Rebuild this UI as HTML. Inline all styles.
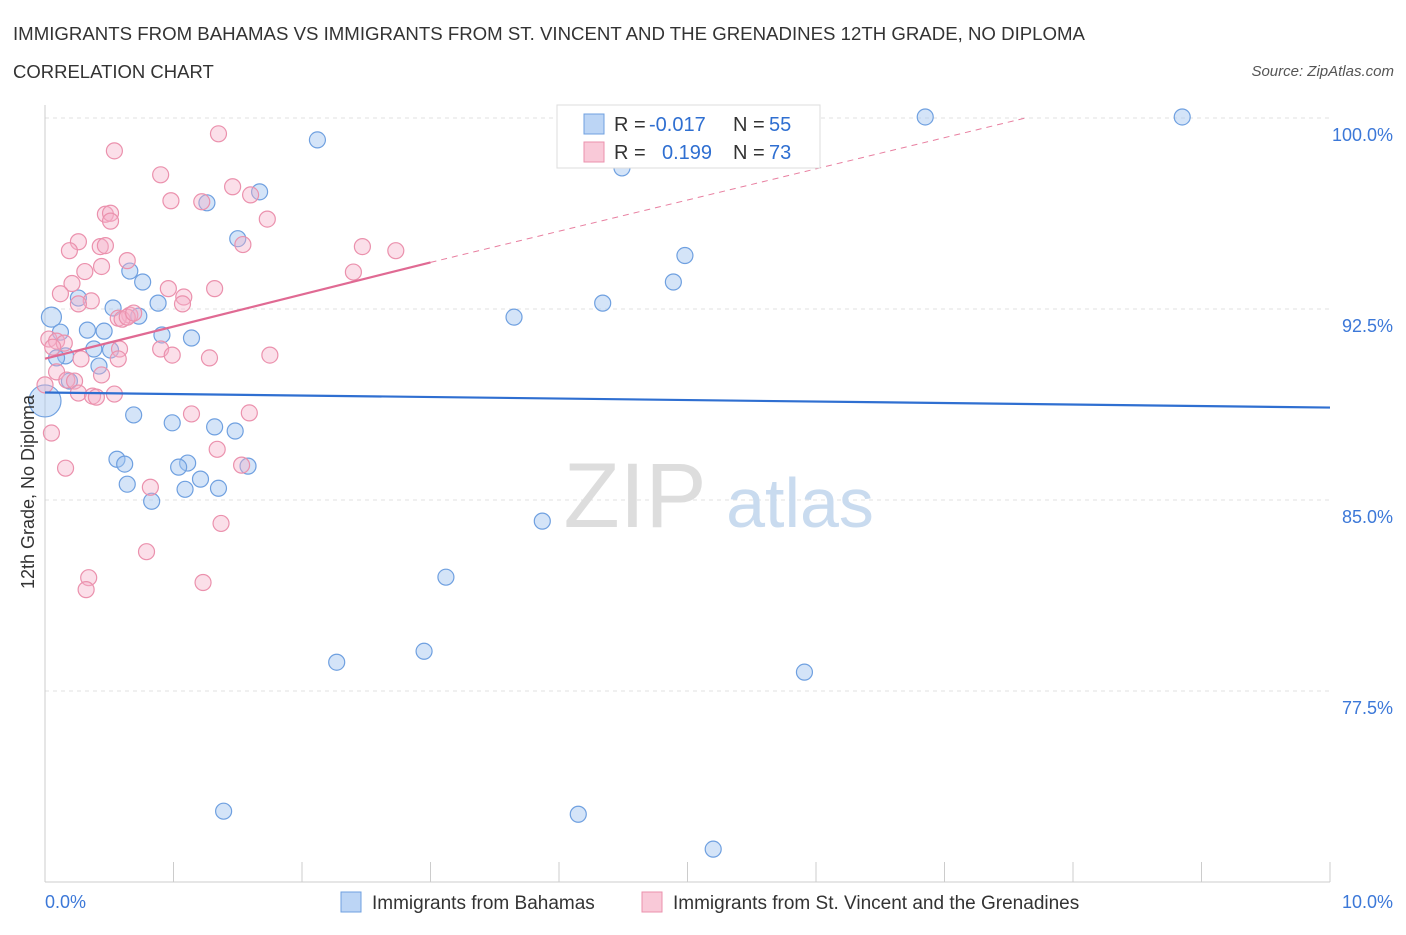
<!DOCTYPE html>
<html><head><meta charset="utf-8"><style>
body{margin:0;background:#fff;font-family:"Liberation Sans",sans-serif;}
svg text{font-family:"Liberation Sans",sans-serif;}
</style></head><body>
<svg id="chart" width="1406" height="930" xmlns="http://www.w3.org/2000/svg">
<text x="13" y="40" font-size="18.5" fill="#333" textLength="1072" lengthAdjust="spacingAndGlyphs">IMMIGRANTS FROM BAHAMAS VS IMMIGRANTS FROM ST. VINCENT AND THE GRENADINES 12TH GRADE, NO DIPLOMA</text>
<text x="13" y="78" font-size="18.5" fill="#333">CORRELATION CHART</text>
<text x="1394" y="76" font-size="15" fill="#555" font-style="italic" text-anchor="end">Source: ZipAtlas.com</text>
<g id="grid"></g>
<g><text x="635" y="527" font-size="92" fill="#ddd" text-anchor="middle" font-family="Liberation Serif">ZIP</text><text x="800" y="527" font-size="70" fill="#c9dbef" text-anchor="middle">atlas</text></g>
<g id="marks"></g>
<text transform="translate(34,492) rotate(-90)" font-size="18" fill="#333" text-anchor="middle">12th Grade, No Diploma</text>
<g>
<rect x="557" y="105" width="263" height="63" fill="#fff" stroke="#ddd"/>
<rect x="584" y="114" width="20" height="20" fill="#bcd5f5" stroke="#6fa0e0"/>
<rect x="584" y="142" width="20" height="20" fill="#f9c9d8" stroke="#eb91ad"/>
<text x="614" y="131" font-size="20" fill="#333">R =</text>
<text x="649" y="131" font-size="20" fill="#2f6fd1">-0.017</text>
<text x="733" y="131" font-size="20" fill="#333">N =</text>
<text x="769" y="131" font-size="20" fill="#2f6fd1">55</text>
<text x="614" y="159" font-size="20" fill="#333">R =</text>
<text x="662" y="159" font-size="20" fill="#2f6fd1">0.199</text>
<text x="733" y="159" font-size="20" fill="#333">N =</text>
<text x="769" y="159" font-size="20" fill="#2f6fd1">73</text>
</g>
<g>
<rect x="341" y="892" width="20" height="20" fill="#bcd5f5" stroke="#6fa0e0"/>
<text x="372" y="909" font-size="19" fill="#333">Immigrants from Bahamas</text>
<rect x="642" y="892" width="20" height="20" fill="#f9c9d8" stroke="#eb91ad"/>
<text x="673" y="909" font-size="19" fill="#333">Immigrants from St. Vincent and the Grenadines</text>
</g>
</svg>
<script>
const xTicks=[0,10];
const yTicks=[77.5,85,92.5,100];
const blueX=[2.12,6.85,8.85,4.49,1.26,1.67,1.5,4.98,0.66,0.76,4.89,0.26,0.88,4.34,0.53,0.05,0.73,3.65,0.12,0.33,0.46,0.91,1.14,0.38,0.51,0.16,0.09,0.42,0.19,0.0,0.69,0.99,1.32,1.48,0.56,0.62,1.11,1.04,1.58,1.21,0.64,1.09,1.35,0.83,3.87,3.12,2.27,2.95,5.91,1.39,4.15,5.2];
const blueY=[99.14,100.04,100.04,98.04,96.67,97.1,95.26,94.6,93.99,93.56,93.56,92.93,92.73,92.73,92.54,92.18,92.22,92.18,91.59,91.67,91.63,91.48,91.36,90.93,90.89,90.66,90.58,90.26,89.67,88.89,88.34,88.03,87.87,87.71,86.6,86.41,86.45,86.29,86.33,85.82,85.62,85.42,85.46,84.95,84.17,81.97,78.63,79.06,78.24,72.78,72.66,71.29];
const blueR=[8,8,8,8,8,8,8,8,8,8,8,8,8,8,8,10,8,8,8,8,8,8,8,8,8,8,8,8,8,16,8,8,8,8,8,8,8,8,8,8,8,8,8,8,8,8,8,8,8,8,8,8];
const pinkX=[1.35,0.54,0.9,1.46,0.98,1.22,1.6,0.47,0.51,0.51,1.73,0.26,0.19,0.43,0.47,1.54,2.47,2.73,0.64,0.44,0.31,2.4,0.21,0.96,1.32,0.12,0.36,0.26,1.08,1.07,0.66,0.57,0.6,0.64,0.69,0.03,0.09,0.15,0.06,0.9,0.58,0.99,1.28,1.75,0.28,0.57,0.09,0.44,0.17,0.23,0.0,0.26,0.37,0.4,0.54,1.14,1.59,0.05,1.34,1.53,0.16,0.82,1.37,0.79,0.34,0.32,1.23];
const pinkY=[99.38,98.71,97.77,97.3,96.75,96.71,96.98,96.22,96.26,95.95,96.03,95.14,94.79,94.95,94.99,95.03,94.95,94.79,94.4,94.17,93.97,93.95,93.5,93.3,93.3,93.1,92.82,92.7,92.97,92.7,92.26,92.14,92.1,92.18,92.34,91.32,91.24,91.16,91.0,90.93,90.93,90.69,90.58,90.69,90.54,90.54,90.03,89.91,89.71,89.67,89.52,89.2,89.08,89.04,89.16,88.38,88.42,87.63,86.99,86.37,86.25,85.5,84.08,82.97,81.95,81.48,81.76];
const P={l:45,r:1330,t:118,b:882};
const xs=v=>P.l+(v-0)/10*(P.r-P.l);
const ys=v=>118+(100-v)/7.5*191;
const NS="http://www.w3.org/2000/svg";
function mk(tag,attrs,parent){const e=document.createElementNS(NS,tag);for(const k in attrs)e.setAttribute(k,attrs[k]);parent.appendChild(e);return e;}
const g=document.getElementById('grid'),m=document.getElementById('marks');
yTicks.forEach(t=>{
 const l=mk('line',{x1:45,x2:1330,y1:ys(t),y2:ys(t),stroke:'#e2e2e2','stroke-dasharray':'4,4'},g);
 
 
 const tx=mk('text',{x:1393,y:ys(t)+23,'font-size':18,fill:'#3c78d8','text-anchor':'end'},g);tx.textContent=t.toFixed(1)+'%';
 
 
});
const ax=mk('line',{x1:45,x2:1330,y1:882,y2:882,stroke:'#ccc'},g);


const ay=mk('line',{x1:45,x2:45,y1:105,y2:882,stroke:'#ccc'},g);


for(let i=0;i<=10;i++){const t=mk('line',{x1:xs(i),x2:xs(i),y1:862,y2:882,stroke:'#ccc'},g);
 
 }
xTicks.forEach((t,i)=>{const tx=mk('text',{x:i==0?45:1393,y:908,'font-size':18,fill:'#3c78d8','text-anchor':i==0?'start':'end'},g);tx.textContent=t.toFixed(1)+'%';
 
 });
blueX.forEach((x,i)=>{const c=mk('circle',{cx:xs(x),cy:ys(blueY[i]),r:blueR[i],fill:'rgba(160,195,240,0.45)',stroke:'#6fa0e0','stroke-width':1.2},m);
 
 });
pinkX.forEach((x,i)=>{const c=mk('circle',{cx:xs(x),cy:ys(pinkY[i]),r:8,fill:'rgba(245,175,200,0.4)',stroke:'#eb91ad','stroke-width':1.2},m);
 
 });
const bl=mk('line',{x1:xs(0),y1:ys(89.22),x2:xs(10),y2:ys(88.63),stroke:'#2f6fd1','stroke-width':2.2},m);


const pd=mk('line',{x1:xs(3.0),y1:ys(94.33),x2:xs(7.63),y2:ys(100),stroke:'#e87fa0','stroke-width':1,'stroke-dasharray':'6,5'},m);


const pl=mk('line',{x1:xs(0),y1:ys(90.55),x2:xs(3.0),y2:ys(94.33),stroke:'#e06a93','stroke-width':2.2},m);


</script>
</body></html>
